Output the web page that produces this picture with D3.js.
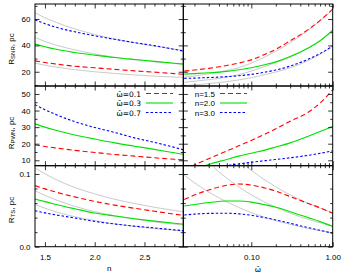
<!DOCTYPE html>
<html><head><meta charset="utf-8">
<script src="https://cdn.jsdelivr.net/npm/d3@7"></script>
<style>
body{margin:0;background:#fff}
svg{display:block}
text{font-family:"Liberation Sans",Arial,sans-serif;font-size:8px;fill:#000}
text.om{font-family:"DejaVu Sans",sans-serif;font-size:7.5px}
</style>
</head><body>
<svg id="c" width="350" height="275"></svg>
<script>
// ---------- data ----------
const nVals = [1.4,1.5,1.6,1.8,2.0,2.2,2.4,2.6,2.8,2.9];
const wVals = [0.015,0.02,0.03,0.05,0.07,0.1,0.15,0.2,0.3,0.5,0.7,1.0];

// R_SNR vs n (omega = 0.1, 0.3, 0.7) + gray reference curves
const snrN_w01 = [28.3,27,26,24.2,23,21.8,20.7,19.7,18.6,18];
const snrN_w03 = [41,39,37.2,34.6,32.6,30.8,29.3,27.9,26.5,25.8];
const snrN_w07 = [59.5,56.5,54,50.3,47.3,44.6,42.1,39.8,37,35.6];
const snrN_g1 = [64.8,61,57.8,52.5,48.3,44.8,42,39.5,37.1,36];
const snrN_g2 = [46,43,40.5,36.6,33.5,31,29.1,27.6,26.2,25.6];
const snrN_g3 = [26.5,25,23.7,21.6,20,18.7,17.6,16.7,16,15.7];
// R_SNR vs omega (n = 1.5, 2.0, 3.0)
const snrW_n15 = [20.5,21.3,22.6,24.8,26.6,29,33.5,37,43.5,52,59,67.5];
const snrW_n20 = [18.2,18.6,19.2,20.3,21.5,23,25.5,27.5,31.5,38,43.5,51.5];
const snrW_n30 = [15,15.2,15.6,16.3,17,18,19.8,21.3,24.3,29.5,33.8,39.5];
const snrW_g1 = [16,16.8,18.5,21,23.2,26.5,31.5,35.5,42,51.5,58.5,67];
const snrW_g2 = [12,12.8,14,16,17.8,20.5,24.2,27,31,38,43.5,51.5];
const snrW_g3 = [9.5,10,11,12.5,13.8,15.5,18,19.8,23,28.5,33.3,39.3];
// R_PWN vs n
const pwnN_w01 = [19.2,18.3,17.5,16,14.7,13.5,12.5,11.5,10.6,10.2];
const pwnN_w03 = [32,30,28.3,25.3,22.8,20.5,18.5,16.6,14.5,13.5];
const pwnN_w07 = [43.5,40.5,37.8,33.3,29.8,26.8,23.5,20.8,17.8,16.2];
// R_PWN vs omega
const pwnW_n15 = [4.5,7.2,11,15.6,18.7,22,26,29,33.5,39,44.5,52.5];
const pwnW_n20 = [2,4.5,7.5,10.5,12.5,14.3,16.3,18,20.5,24.5,27.3,30.5];
const pwnW_n30 = [3,4,5.5,6.9,7.8,8.8,9.8,10.5,11.5,13,14.2,15.7];
// R_TS vs n
const tsN_w01 = [0.084,0.0795,0.0755,0.0685,0.0623,0.0572,0.0528,0.0488,0.0448,0.043];
const tsN_w03 = [0.0655,0.062,0.0585,0.0522,0.0463,0.0423,0.0385,0.0352,0.0322,0.0308];
const tsN_w07 = [0.0495,0.0465,0.044,0.0395,0.0348,0.0312,0.0283,0.0258,0.0232,0.0218];
const tsN_g1 = [0.1084,0.1002,0.093,0.0815,0.0726,0.0653,0.0593,0.0542,0.0498,0.0479];
const tsN_g2 = [0.077,0.0705,0.065,0.0555,0.0483,0.0425,0.0381,0.0342,0.0311,0.0297];
const tsN_g3 = [0.058,0.0529,0.0484,0.0412,0.0358,0.0314,0.0278,0.0249,0.0225,0.0215];
// R_TS vs omega
const tsW_n15 = [0.065,0.071,0.078,0.0845,0.0862,0.0848,0.0805,0.0765,0.069,0.0595,0.0535,0.0458];
const tsW_n20 = [0.056,0.058,0.0607,0.0628,0.0628,0.0613,0.0575,0.0542,0.0482,0.04,0.0345,0.0278];
const tsW_n30 = [0.0436,0.0448,0.0458,0.046,0.0452,0.0432,0.0397,0.0368,0.0322,0.0262,0.0225,0.0184];
const tsW_g1 = [0.205,0.185,0.160,0.134,0.119,0.105,0.0911,0.0823,0.0714,0.0596,0.053,0.0467];
const tsW_g2 = [0.152,0.136,0.1155,0.0942,0.0823,0.0714,0.0608,0.0542,0.0461,0.0376,0.0329,0.0285];
const tsW_g3 = [0.0984,0.088,0.0751,0.0616,0.054,0.047,0.0401,0.0359,0.0307,0.0251,0.0221,0.0192];

// axis ranges and ticks
const nDomain = [1.4, 2.89];
const wDomain = [0.0146, 1];
const snrDomain = [9.2, 71.4];
const pwnDomain = [6.74, 54.8];
const tsDomain = [0, 0.1114];
const nMajor = [1.5, 2.0, 2.5];
const nMinor = [1.6,1.7,1.8,1.9,2.1,2.2,2.3,2.4,2.6,2.7,2.8];
const wMajor = [0.1, 1];
const wMinor = [0.02,0.03,0.04,0.05,0.06,0.07,0.08,0.09,0.2,0.3,0.4,0.5,0.6,0.7,0.8,0.9];
const snrMajor = [20, 40, 60];
const snrMinor = [10, 30, 50, 70];
const pwnMajor = [10, 20, 30, 40, 50];
const pwnMinor = [15, 25, 35, 45];
const tsMajor = [0, 0.1];
const tsMinor = [0.02, 0.04, 0.06, 0.08];

const omegaLabels = ["ω̄=0.1", "ω̄=0.3", "ω̄=0.7"];
const nLabels = ["n=1.5", "n=2.0", "n=3.0"];
const yTitleSubs = ["SNR", "PWN", "TS"];
const xTitles = ["n", "ω̄"];

// ---------- layout ----------
const svg = d3.select("#c");
const X0 = 35, XM = 183.3, X1 = 332.7;
const YB = [4, 86, 165.7, 246.7];
const MAJ = 4.5, MIN = 2.5;

const xScales = [
  d3.scaleLinear().domain(nDomain).range([X0, XM]),
  d3.scaleLog().domain(wDomain).range([XM, X1])
];
const yDomains = [snrDomain, pwnDomain, tsDomain];
const yScales = yDomains.map((d, i) => d3.scaleLinear().domain(d).range([YB[i+1], YB[i]]));
const xMaj = [nMajor, wMajor], xMin = [nMinor, wMinor];
const yMaj = [snrMajor, pwnMajor, tsMajor], yMin = [snrMinor, pwnMinor, tsMinor];
const xFmt = [d3.format(".1f"), d3.format(".2f")];
const yFmt = [d3.format("d"), d3.format("d"), d3.format(".1f")];

const colors = ["#ff0000", "#00e000", "#0000ff"];
const dashes = ["5,3", null, "2.5,2"];
const grayCol = "#c4c4c4";

const seriesGrid = [
  [ {x: nVals, gray: [snrN_g1, snrN_g2, snrN_g3], col: [snrN_w01, snrN_w03, snrN_w07]},
    {x: wVals, gray: [snrW_g1, snrW_g2, snrW_g3], col: [snrW_n15, snrW_n20, snrW_n30]} ],
  [ {x: nVals, gray: [], col: [pwnN_w01, pwnN_w03, pwnN_w07]},
    {x: wVals, gray: [], col: [pwnW_n15, pwnW_n20, pwnW_n30]} ],
  [ {x: nVals, gray: [tsN_g1, tsN_g2, tsN_g3], col: [tsN_w01, tsN_w03, tsN_w07]},
    {x: wVals, gray: [tsW_g1, tsW_g2, tsW_g3], col: [tsW_n15, tsW_n20, tsW_n30]} ]
];

const defs = svg.append("defs");

function tickAxis(g, axis, scale, vals, size, tx, ty) {
  const a = g.append("g").attr("transform", `translate(${tx},${ty})`)
    .call(axis(scale).tickValues(vals).tickSize(size).tickFormat(""));
  a.select(".domain").remove();
  a.selectAll("line").attr("stroke", "#000").attr("stroke-width", 0.8);
}

for (let r = 0; r < 3; r++) {
  for (let c = 0; c < 2; c++) {
    const xs = xScales[c], ys = yScales[r];
    const px0 = c === 0 ? X0 : XM, px1 = c === 0 ? XM : X1;
    const py0 = YB[r], py1 = YB[r+1];
    const id = `clip${r}${c}`;
    defs.append("clipPath").attr("id", id).append("rect")
      .attr("x", px0).attr("y", py0).attr("width", px1 - px0).attr("height", py1 - py0);
    const g = svg.append("g");
    const plot = g.append("g").attr("clip-path", `url(#${id})`);
    const s = seriesGrid[r][c];
    const line = d3.line().x((d, i) => xs(s.x[i])).y(d => ys(d)).curve(d3.curveMonotoneX);
    s.gray.forEach(v => plot.append("path").attr("d", line(v))
      .attr("fill", "none").attr("stroke", grayCol).attr("stroke-width", 0.9));
    s.col.forEach((v, k) => plot.append("path").attr("d", line(v))
      .attr("fill", "none").attr("stroke", colors[k]).attr("stroke-width", 1.1)
      .attr("stroke-dasharray", dashes[k]));

    // inward ticks on all four sides
    [[xMaj[c], MAJ], [xMin[c], MIN]].forEach(([vals, sz]) => {
      tickAxis(g, d3.axisBottom, xs, vals, -sz, 0, py1);
      tickAxis(g, d3.axisTop, xs, vals, -sz, 0, py0);
    });
    [[yMaj[r], MAJ], [yMin[r], MIN]].forEach(([vals, sz]) => {
      tickAxis(g, d3.axisLeft, ys, vals, -sz, px0, 0);
      tickAxis(g, d3.axisRight, ys, vals, -sz, px1, 0);
    });

    g.append("rect").attr("x", px0).attr("y", py0)
      .attr("width", px1 - px0).attr("height", py1 - py0)
      .attr("fill", "none").attr("stroke", "#000").attr("stroke-width", 1);

    // tick labels
    if (c === 0) {
      const a = g.append("g").attr("transform", `translate(${X0},0)`)
        .call(d3.axisLeft(ys).tickValues(yMaj[r]).tickSize(0).tickPadding(4.5).tickFormat(yFmt[r]));
      a.select(".domain").remove();
      a.selectAll("text").style("font-size", "8px").style("font-family", null);
    }
    if (r === 2) {
      const a = g.append("g").attr("transform", `translate(0,${YB[3]})`)
        .call(d3.axisBottom(xs).tickValues(xMaj[c]).tickSize(0).tickPadding(7.3).tickFormat(xFmt[c]));
      a.select(".domain").remove();
      a.selectAll("text").style("font-size", "8px").style("font-family", null);
    }
  }
}

// y titles
yTitleSubs.forEach((sub, i) => {
  const cy = [49, 133, 210][i];
  const t = svg.append("text").attr("transform", `translate(13.5,${cy}) rotate(-90)`)
    .attr("text-anchor", "middle");
  t.append("tspan").text("R");
  t.append("tspan").attr("dy", 1.8).style("font-size", "6px").text(sub);
  t.append("tspan").attr("dy", -1.8).text(", pc");
});

// x titles
svg.append("text").attr("x", (X0 + XM) / 2).attr("y", 270.5).attr("text-anchor", "middle").text(xTitles[0]);
svg.append("text").attr("class", "om").attr("x", (XM + X1) / 2).attr("y", 271.5).attr("text-anchor", "middle").text(xTitles[1]);

// legends
const legRows = [93.5, 103, 112.5];
function legend(labels, textRight, s0, s1, cls) {
  labels.forEach((lab, k) => {
    const y = legRows[k];
    svg.append("text").attr("class", cls).attr("x", textRight).attr("y", y + 3).attr("text-anchor", "end").text(lab);
    svg.append("line").attr("x1", s0).attr("x2", s1).attr("y1", y).attr("y2", y)
      .attr("stroke", colors[k]).attr("stroke-width", 1.1).attr("stroke-dasharray", dashes[k]);
  });
}
legend(omegaLabels, 141, 146, 173, "om");
legend(nLabels, 215, 220, 247, null);
</script>
</body></html>
